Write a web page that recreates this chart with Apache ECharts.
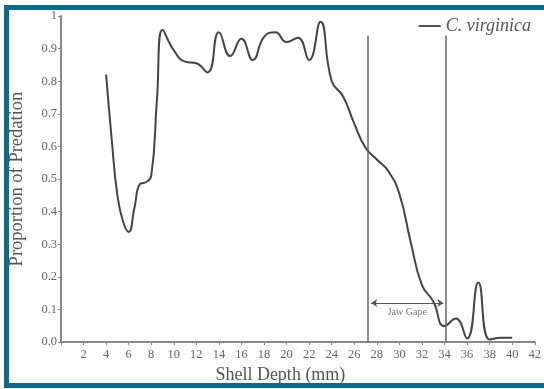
<!DOCTYPE html>
<html><head><meta charset="utf-8">
<script src="https://cdn.jsdelivr.net/npm/echarts@6/dist/echarts.min.js"></script>
<style>html,body{margin:0;padding:0;background:#fff}#c{width:544px;height:389px}</style>
</head><body><div id="c"></div>
<script>
const depth = [4,4.5,5,5.5,6,6.5,7,7.5,8,8.5,9,10,11,12,13,14,15,16,17,18,19,20,21,22,23,24,25,26,27,28,29,30,31,32,33,34,35,36,37,38,39,40];
const predation = [0.82,0.62,0.45,0.37,0.338,0.41,0.485,0.49,0.51,0.74,0.958,0.895,0.86,0.855,0.827,0.95,0.877,0.93,0.865,0.936,0.95,0.92,0.933,0.865,0.982,0.80,0.754,0.67,0.596,0.56,0.525,0.454,0.307,0.175,0.125,0.049,0.072,0.011,0.183,0.008,0.013,0.013];
const jawLines = [27.2, 34.1];
const jawLineTop = 0.94;
const jawArrow = [27.5, 33.9];
const jawArrowY = 0.12;
const xTicks = {min:0, max:42, interval:2};
const yTicks = {min:0, max:1, interval:0.1};
const seriesName = 'C. virginica';

const serif = '"Liberation Serif","DejaVu Serif",serif';
const frame = {stroke:'#0d6a8c', lineWidth:5};
const chart = echarts.init(document.getElementById('c'));
chart.setOption({
  animation:false,
  backgroundColor:'#fff',
  grid:{left:61,right:5,top:16,bottom:45},
  legend:{show:true,right:8,top:12,itemWidth:22,itemHeight:2,icon:'rect',
    textStyle:{fontFamily:serif,fontStyle:'italic',fontSize:18,color:'#555'},
    data:[{name:seriesName,itemStyle:{color:'#555'}}]},
  xAxis:{type:'value',min:xTicks.min,max:xTicks.max,interval:xTicks.interval,
    name:'Shell Depth (mm)',nameLocation:'middle',nameGap:21,
    nameTextStyle:{fontFamily:serif,fontSize:18,color:'#555',padding:[0,35,0,0]},
    axisLine:{lineStyle:{color:'#888',width:2}},
    axisTick:{show:true,length:3,lineStyle:{color:'#888'}},
    axisLabel:{fontFamily:serif,fontSize:12.5,color:'#666',margin:6,
      formatter:v=>v===0?'':String(v),showMaxLabel:true},
    splitLine:{show:false}},
  yAxis:{type:'value',min:yTicks.min,max:yTicks.max,interval:yTicks.interval,
    name:'Proportion of Predation',nameLocation:'middle',nameGap:34,
    nameTextStyle:{fontFamily:serif,fontSize:18.5,color:'#555'},
    axisLine:{show:true,lineStyle:{color:'#888',width:2}},
    axisTick:{show:true,length:3,lineStyle:{color:'#888'}},
    axisLabel:{fontFamily:serif,fontSize:12.5,color:'#666',margin:4,
      formatter:v=>v===0?'0.0':(Math.abs(v-1)<1e-9?'1':v.toFixed(1))},
    splitLine:{show:false}},
  graphic:[
    {type:'polyline',shape:{points:[[544,7.5],[6.5,7.5],[6.5,385.5],[544,385.5]]},
     style:{fill:null,stroke:frame.stroke,lineWidth:frame.lineWidth,lineCap:'butt'},z:100}
  ],
  series:[{
    name:seriesName,type:'line',smooth:0.5,symbol:'none',
    lineStyle:{color:'#444',width:2},itemStyle:{color:'#444'},
    data:depth.map((d,i)=>[d,predation[i]]),
    markLine:{silent:true,animation:false,
      data:[
        [{coord:[jawLines[0],0],symbol:'none',lineStyle:{color:'#666',width:1.5,type:'solid'},label:{show:false}},{coord:[jawLines[0],jawLineTop],symbol:'none'}],
        [{coord:[jawLines[1],0],symbol:'none',lineStyle:{color:'#666',width:1.5,type:'solid'},label:{show:false}},{coord:[jawLines[1],jawLineTop],symbol:'none'}],
        [{coord:[jawArrow[0],jawArrowY],symbol:'arrow',symbolSize:6,lineStyle:{color:'#555',width:1,type:'solid'},
          label:{show:true,formatter:'Jaw Gape',position:'insideMiddleBottom',fontFamily:serif,fontSize:10,color:'#777',distance:4}},
         {coord:[jawArrow[1],jawArrowY],symbol:'arrow',symbolSize:6}]
      ]}
  }]
});
</script></body></html>
